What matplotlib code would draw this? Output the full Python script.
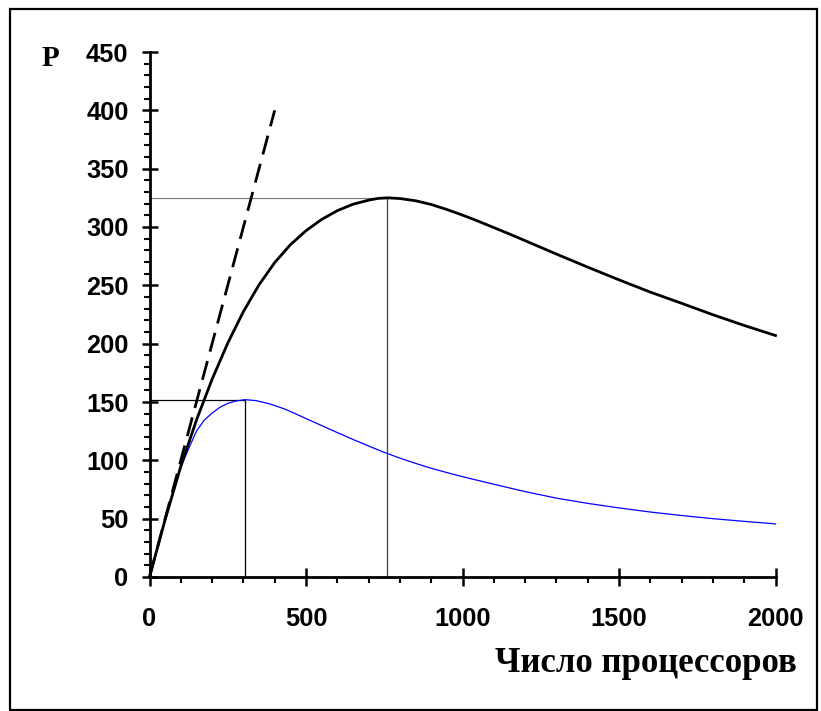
import matplotlib
matplotlib.use("Agg")
import matplotlib.pyplot as plt
from matplotlib.patches import Rectangle
from matplotlib.ticker import MultipleLocator

# Speedup curves read as (processors, P) pairs
black_x = [0, 50, 100, 150, 200, 250, 300, 350, 400, 450, 500, 550, 600, 650,
           700, 730, 760, 800, 850, 900, 950, 1000, 1050, 1100, 1150, 1200,
           1300, 1400, 1500, 1600, 1700, 1800, 1900, 2000]
black_y = [0, 49.3, 94.8, 134.5, 169.5, 200.5, 227.5, 250.5, 269.5, 284.8,
           296.8, 306.5, 314, 319.5, 323, 324.5, 325, 324.4, 322.5, 319.3, 315,
           310.2, 305, 299.5, 294, 288.3, 276.8, 265.6, 254.7, 244.2, 234.6,
           224.8, 215.6, 207]

blue_x = [0, 50, 100, 125, 150, 175, 200, 225, 250, 275, 305, 340, 385, 430,
          470, 500, 550, 600, 650, 700, 750, 800, 850, 900, 950, 1000, 1100,
          1200, 1300, 1400, 1500, 1600, 1700, 1800, 1900, 2000]
blue_y = [0, 49, 94, 110, 125, 134.5, 140.5, 145.5, 148.8, 150.8, 152, 151.2,
          148.3, 144.2, 139.5, 135.8, 129.8, 123.8, 117.9, 112.3, 106.8, 101.9,
          97.4, 93.2, 89.5, 86, 79.5, 73.2, 67.6, 63.1, 59.2, 55.7, 52.7, 50,
          47.7, 45.5]

# Ideal linear speedup
ideal_x = [0, 400]
ideal_y = [0, 400]

# Maxima of the two curves
peak_black = (760, 325)
peak_blue = (305, 152)

x_major = [0, 500, 1000, 1500, 2000]
y_major = [0, 50, 100, 150, 200, 250, 300, 350, 400, 450]

W, H = 821, 711
fig = plt.figure(figsize=(W / 100, H / 100), dpi=100)
fig.patch.set_facecolor("white")

# Outer frame
fig.patches.append(Rectangle((10 / W, 1 - 710 / H), (817 - 10) / W, (710 - 9) / H,
                             transform=fig.transFigure, fill=False,
                             edgecolor="black", linewidth=1.6))

ax = fig.add_axes([149.5 / W, (H - 577) / H, 626 / W, 525 / H])
ax.set_xlim(0, 2000)
ax.set_ylim(0, 450)

for s in ("top", "right"):
    ax.spines[s].set_visible(False)
for s in ("left", "bottom"):
    ax.spines[s].set_linewidth(2.0)

ax.set_xticks(x_major)
ax.set_yticks(y_major)
ax.xaxis.set_minor_locator(MultipleLocator(100))
ax.yaxis.set_minor_locator(MultipleLocator(10))

ax.tick_params(which="major", direction="inout", width=1.8)
ax.tick_params(axis="y", which="major", length=11, pad=9.6)
ax.tick_params(axis="x", which="major", length=13, pad=15.0)
ax.tick_params(which="minor", direction="out", length=4.5, width=1.5)

for lab in ax.get_xticklabels() + ax.get_yticklabels():
    lab.set_fontfamily("Liberation Sans")
    lab.set_fontweight("bold")
    lab.set_fontsize(18.3)

# Reference lines to the maxima
ax.plot([0, peak_black[0]], [peak_black[1], peak_black[1]], color="#808080", lw=0.9)
ax.plot([peak_black[0], peak_black[0]], [0, peak_black[1]], color="#404040", lw=0.9)
ax.plot([0, peak_blue[0]], [peak_blue[1], peak_blue[1]], color="black", lw=0.9)
ax.plot([peak_blue[0], peak_blue[0]], [0, peak_blue[1]], color="black", lw=0.9)

ax.plot(ideal_x, ideal_y, color="black", lw=2.0, dashes=(7, 3.5), clip_on=False)
ax.plot(blue_x, blue_y, color="#0000ff", lw=0.9, clip_on=False)
ax.plot(black_x, black_y, color="black", lw=2.0, clip_on=False)

fig.text(50 / W, 1 - 66 / H, "P", family="Liberation Serif", weight="bold",
         fontsize=21, ha="center", va="baseline")
fig.text(797 / W, 1 - 672 / H, "Число процессоров", family="Liberation Serif",
         weight="bold", fontsize=25, ha="right", va="baseline")

fig.savefig("out.png", dpi=100)
